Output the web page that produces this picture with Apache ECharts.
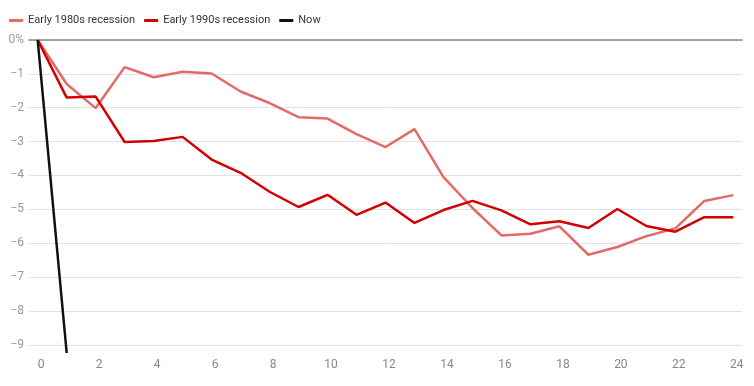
<!DOCTYPE html>
<html>
<head>
<meta charset="utf-8">
<script src="https://cdn.jsdelivr.net/npm/echarts@6/dist/echarts.min.js"></script>
<style>
html,body{margin:0;padding:0;background:#fff;}
#chart{width:754px;height:386px;}
</style>
</head>
<body>
<div id="chart"></div>
<script>
var months = [0,1,2,3,4,5,6,7,8,9,10,11,12,13,14,15,16,17,18,19,20,21,22,23,24];
var rec1980s = [0,-1.30,-2.01,-0.80,-1.10,-0.94,-0.99,-1.52,-1.86,-2.28,-2.32,-2.78,-3.16,-2.63,-4.05,-4.96,-5.77,-5.72,-5.50,-6.34,-6.11,-5.79,-5.56,-4.75,-4.58];
var rec1990s = [0,-1.70,-1.67,-3.01,-2.98,-2.86,-3.53,-3.92,-4.48,-4.93,-4.57,-5.16,-4.80,-5.40,-5.02,-4.75,-5.03,-5.44,-5.35,-5.55,-4.99,-5.49,-5.66,-5.23,-5.23];
var nowMonths = [0,1];
var nowValues = [0,-9.24];
var seriesNames = ['Early 1980s recession','Early 1990s recession','Now'];

function pairs(xs, ys){ return xs.map(function(x,i){ return [x, ys[i]]; }); }

var chart = echarts.init(document.getElementById('chart'), null, {renderer:'canvas'});
var font = 'Roboto, "Noto Sans", sans-serif';
chart.setOption({
  animation:false,
  textStyle:{fontFamily:font},
  legend:{
    left:4, top:10,
    icon:'rect', itemWidth:14, itemHeight:3, itemGap:9,
    textStyle:{fontSize:11, color:'#333', fontFamily:font},
    data:seriesNames
  },
  grid:{left:29, right:12, top:40, bottom:33, containLabel:false},
  xAxis:[{
    type:'value', min:-0.3, max:24.3, splitNumber:12,
    axisLine:{show:false}, axisTick:{show:false}, splitLine:{show:false},
    axisLabel:{showMinLabel:false, showMaxLabel:false, color:'#888', fontSize:12, margin:6, padding:[0,0,0,7], fontFamily:font}
  },{
    type:'value', position:'top', min:-0.3, max:24.3,
    axisLine:{show:true, lineStyle:{color:'#888', width:1.5}},
    axisTick:{show:false}, axisLabel:{show:false}, splitLine:{show:false}
  }],
  yAxis:{
    type:'value', min:'dataMin', max:0, splitNumber:9,
    axisLine:{show:false}, axisTick:{show:false},
    splitLine:{show:true, showMinLine:false, lineStyle:{color:'#e2e2e2', width:1}},
    axisLabel:{showMinLabel:false, color:'#999', fontSize:12, margin:5, fontFamily:font,
      formatter:function(v){ if(v===0) return '0%'; return '\u2212' + Math.abs(v); }}
  },
  series:[
    {name:seriesNames[0], type:'line', data:pairs(months, rec1980s), showSymbol:false, symbol:'none',
      lineStyle:{color:'#e36a66', width:2.5}, itemStyle:{color:'#e36a66'}},
    {name:seriesNames[1], type:'line', data:pairs(months, rec1990s), showSymbol:false, symbol:'none',
      lineStyle:{color:'#d40000', width:2.5}, itemStyle:{color:'#d40000'}},
    {name:seriesNames[2], type:'line', data:pairs(nowMonths, nowValues), showSymbol:false, symbol:'none',
      lineStyle:{color:'#111111', width:2.5}, itemStyle:{color:'#111111'}}
  ]
});
</script>
</body>
</html>
